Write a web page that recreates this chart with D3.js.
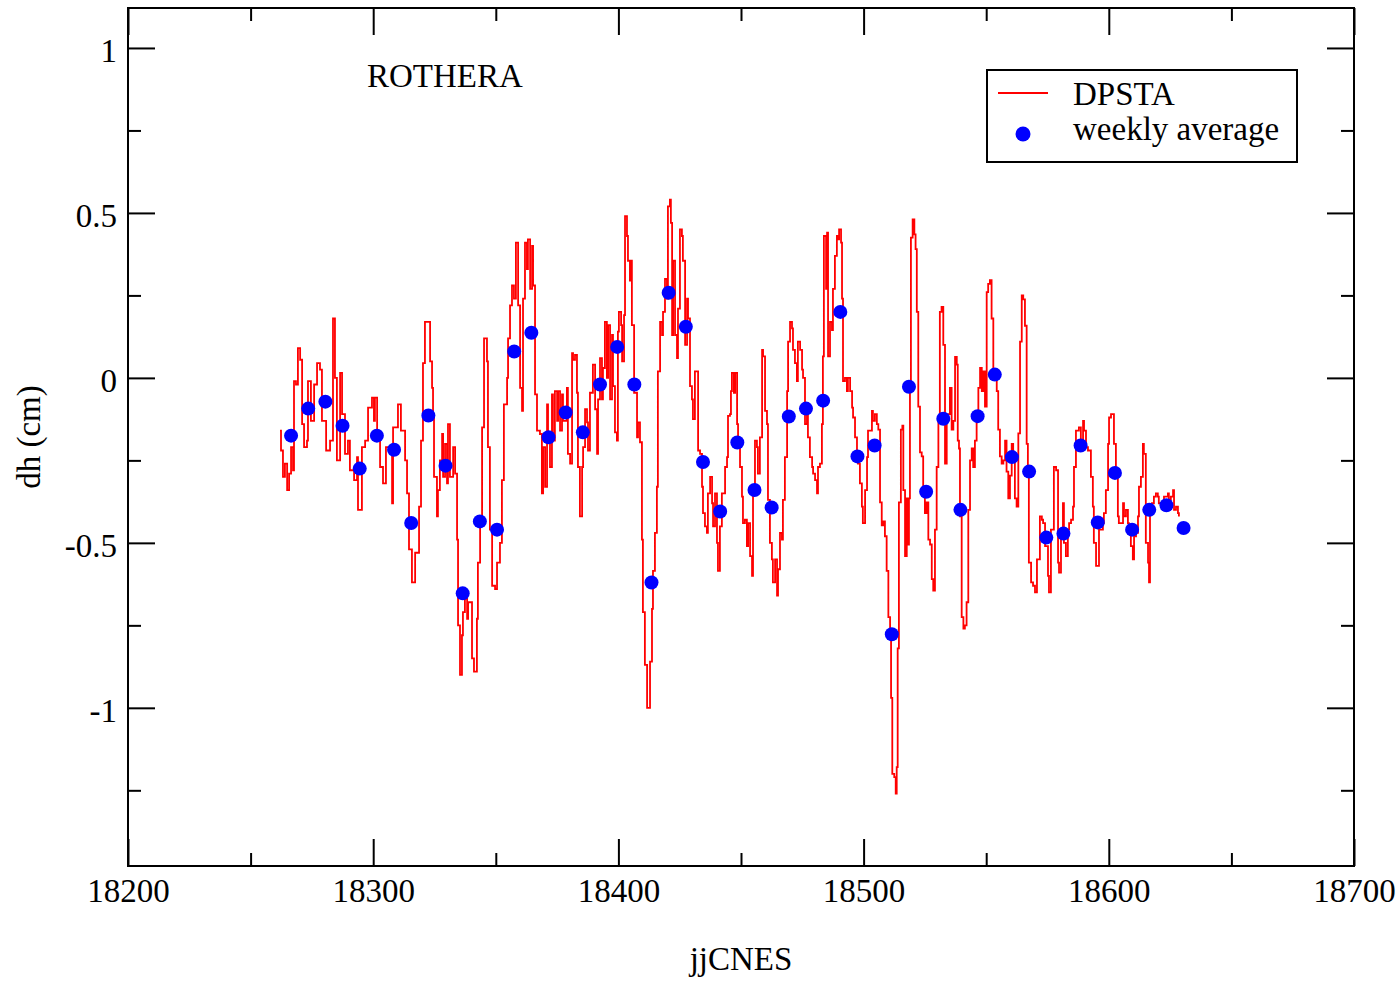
<!DOCTYPE html>
<meta charset="utf-8">
<script src="https://d3js.org/d3.v7.min.js"></script>
<style>
  body { margin: 0; background: #fff; }
  text { font-family: "Liberation Serif", "Times New Roman", serif; fill: #000; }
  .axis path { display: none; }
  .axis line { stroke: #000; stroke-width: 2; }
  .axis text { font-size: 33px; }
</style>
<div id="chart"></div>
<script>

// day = t0 + offset (jjCNES)
var t0 = 18200;

// DPSTA series, day offsets and dh (cm)
var dpsta_t = [
62.0,62.4,63.2,64.0,64.9,65.7,66.5,67.3,67.7,68.5,69.3,70.2,71.0,71.8,73.0,73.4,74.6,75.9,77.1,78.3,
79.1,80.8,82.4,83.6,84.4,85.2,86.5,87.3,88.5,89.7,90.5,92.2,93.4,93.8,95.4,96.7,97.9,99.5,100.3,100.7,
101.6,102.8,104.0,105.2,107.7,108.1,110.1,111.3,113.0,113.8,114.6,115.8,117.1,118.7,119.5,120.3,121.1,
122.4,123.2,124.0,124.4,124.8,126.0,126.4,127.2,128.1,128.5,129.3,130.1,130.5,131.3,132.6,133.4,134.2,
134.6,135.4,136.2,136.6,137.4,138.3,138.7,140.3,141.1,142.3,142.7,143.6,144.4,145.2,146.4,146.8,147.6,
148.5,149.7,150.5,150.9,151.7,152.5,153.3,154.6,155.0,155.8,156.6,157.4,158.2,159.1,159.9,160.7,161.1,
161.9,162.7,163.1,164.0,164.8,165.2,166.0,166.8,168.0,168.8,169.3,170.1,170.9,171.3,172.1,172.9,173.3,
174.1,175.0,175.4,176.2,177.0,177.4,179.0,179.4,180.3,181.1,181.5,
182.3,183.1,183.5,184.3,185.2,185.6,186.4,187.2,187.6,188.4,189.6,190.5,191.3,191.7,192.5,193.3,193.7,
194.5,195.3,195.8,196.6,197.4,197.8,198.6,199.4,199.8,200.2,201.1,201.5,202.3,202.7,203.5,203.9,204.7,
205.1,205.5,206.4,207.6,208.0,208.8,209.6,210.0,210.8,211.7,212.1,212.9,213.7,214.1,214.9,215.7,216.1,
217.0,217.8,218.2,219.0,219.8,220.2,221.0,221.4,221.9,222.3,223.1,223.9,224.3,225.1,225.9,226.3,227.2,
228.0,228.4,229.2,230.0,230.4,231.2,232.1,232.5,233.3,234.1,234.5,235.3,236.1,236.5,237.4,238.2,238.6,
239.4,240.2,240.6,241.4,242.2,243.5,
244.3,244.7,245.5,245.9,246.3,247.1,247.6,248.4,248.8,249.6,250.4,250.8,251.6,252.4,252.9,253.7,254.5,
254.9,255.7,256.5,256.9,257.7,258.6,259.0,259.8,260.6,261.0,261.8,262.6,263.0,263.9,264.7,265.1,265.9,
266.7,267.1,267.9,268.8,269.2,270.0,270.8,271.2,272.0,272.8,273.2,274.1,274.9,275.3,276.1,276.9,277.3,
278.1,279.0,279.4,280.2,281.0,281.4,282.2,283.0,283.4,283.8,284.7,285.1,285.5,286.3,287.1,287.5,288.3,
289.1,289.6,290.0,290.8,291.2,291.6,292.4,293.2,293.6,294.5,295.3,295.7,296.5,297.3,297.7,298.5,299.3,
299.7,300.6,301.4,301.8,302.6,303.4,303.8,304.6,305.4,
306.0,306.7,307.4,308.0,308.7,309.4,310.1,310.8,311.2,311.7,312.5,313.1,313.5,313.9,314.4,315.2,315.8,
316.2,316.9,317.6,318.0,318.5,318.9,319.3,320.0,320.7,321.2,321.7,322.3,323.0,323.7,324.3,325.0,325.7,
326.4,327.1,327.8,328.4,329.1,329.8,330.5,331.1,331.8,332.5,333.2,333.9,334.5,335.2,335.9,336.6,337.3,
338.0,338.4,338.9,339.3,340.0,340.7,341.3,342.0,342.7,343.4,344.1,344.7,345.4,346.1,346.8,347.5,348.2,
348.8,349.5,350.2,350.8,351.5,352.2,352.9,353.6,354.3,354.9,355.6,356.3,357.0,357.7,358.3,359.0,359.7,
360.4,361.0,361.7,362.4,363.1,363.8,364.5,365.1,365.8,366.5,
367.0,367.4,368.3,369.1,369.9,370.7,371.1,371.9,372.7,373.2,374.0,374.8,375.2,375.6,376.4,377.2,377.6,
378.5,379.3,379.7,380.5,381.3,381.7,382.5,383.3,383.8,384.6,385.4,385.8,386.6,387.4,387.8,388.6,389.5,
389.9,390.7,391.5,391.9,392.7,393.5,393.9,394.8,395.6,396.0,396.8,397.6,398.0,398.8,399.7,400.1,400.9,
401.7,402.1,402.9,403.7,404.1,405.0,405.8,406.2,407.0,407.8,408.2,409.0,409.8,410.3,411.1,411.9,412.3,
413.1,413.9,414.3,415.1,416.0,416.4,416.8,417.6,418.4,419.2,420.0,420.4,421.3,422.1,422.5,423.3,424.1,
424.5,425.3,426.2,426.6,427.4,428.2,428.6
];

var dpsta_v = [
-0.16,-0.22,-0.30,-0.26,-0.34,-0.29,-0.21,-0.28,-0.01,-0.02,0.09,0.055,-0.14,-0.21,-0.19,-0.01,-0.13,-0.02,0.045,0.025,
-0.13,-0.22,-0.19,0.18,0.0,-0.25,0.015,-0.11,-0.23,-0.19,-0.28,-0.31,-0.24,-0.40,-0.21,-0.19,-0.09,-0.06,-0.13,-0.06,
-0.18,-0.27,-0.32,-0.21,-0.38,-0.15,-0.08,-0.16,-0.25,-0.35,-0.52,-0.62,-0.53,-0.39,-0.19,0.045,0.17,
0.17,0.05,-0.03,-0.12,-0.30,-0.42,-0.34,-0.25,-0.17,-0.30,-0.20,-0.32,-0.14,-0.30,-0.21,-0.29,-0.49,
-0.75,-0.90,-0.78,-0.71,-0.67,-0.73,-0.68,-0.85,-0.89,-0.73,-0.56,-0.43,-0.15,0.12,0.05,-0.21,-0.46,
-0.63,-0.64,-0.56,-0.56,-0.50,-0.31,-0.08,0.0,0.12,0.22,0.28,0.24,0.41,0.22,-0.03,-0.10,0.24,
0.41,0.33,0.42,0.27,0.40,0.28,-0.05,-0.16,-0.17,-0.35,-0.21,-0.33,-0.08,-0.17,-0.27,-0.05,-0.19,
-0.04,-0.13,-0.04,-0.16,-0.05,-0.13,-0.03,-0.23,-0.26,0.075,0.055,
0.07,-0.045,-0.27,-0.42,-0.27,-0.21,-0.095,-0.135,-0.22,-0.045,0.04,-0.095,-0.23,-0.065,0.06,-0.065,0.03,
0.17,0.0,0.16,-0.065,0.13,-0.025,-0.165,-0.19,0.14,0.20,0.16,0.05,0.19,0.49,0.43,0.355,0.295,
0.355,0.16,-0.045,-0.18,-0.135,-0.195,-0.49,-0.71,-0.87,-1.0,-1.0,-0.86,-0.70,-0.585,-0.47,-0.33,0.02,
0.17,0.13,0.20,0.30,0.24,0.52,0.54,0.47,0.13,0.355,0.13,0.06,0.21,0.45,0.43,0.355,0.10,
0.24,0.18,-0.025,-0.065,-0.125,0.02,0.02,-0.22,-0.23,-0.33,-0.41,-0.45,-0.47,-0.35,-0.30,-0.38,-0.45,
-0.35,-0.50,-0.585,-0.45,-0.35,-0.27,
-0.24,-0.115,-0.11,-0.04,0.015,-0.045,0.015,-0.14,-0.21,-0.27,-0.36,-0.44,-0.43,-0.51,-0.44,-0.54,-0.60,
-0.34,-0.19,-0.21,-0.29,-0.18,0.085,0.065,-0.10,-0.14,-0.37,-0.50,-0.55,-0.62,-0.55,-0.66,-0.58,-0.47,
-0.49,-0.37,-0.24,-0.04,0.11,0.17,0.15,0.085,0.045,-0.01,0.11,0.085,0.025,0.0,-0.14,-0.10,-0.18,
-0.24,-0.27,-0.29,-0.31,-0.35,-0.27,-0.26,-0.14,0.065,0.43,0.27,0.44,0.065,0.17,0.145,0.27,0.37,
0.43,0.42,0.45,0.41,0.24,-0.01,0.0,-0.04,0.0,-0.04,-0.09,-0.12,-0.18,-0.24,-0.26,-0.32,-0.39,
-0.44,-0.34,-0.24,-0.16,-0.16,-0.10,-0.13,-0.11,-0.14,
-0.157,-0.377,-0.447,-0.435,-0.48,-0.585,-0.725,-0.77,-0.97,-1.20,-1.21,-1.26,-1.18,-0.82,-0.377,-0.157,-0.145,
-0.34,-0.54,-0.365,-0.505,-0.365,-0.018,0.425,0.48,0.435,0.39,0.20,-0.087,-0.226,-0.238,-0.34,-0.41,-0.377,
-0.49,-0.505,-0.61,-0.645,-0.46,-0.27,-0.12,0.20,0.215,0.10,-0.26,-0.13,-0.11,-0.03,-0.157,-0.13,0.064,
0.04,-0.19,-0.214,-0.42,-0.725,-0.76,-0.75,-0.68,-0.40,-0.25,-0.214,-0.27,-0.19,-0.11,-0.03,0.03,-0.04,
0.02,-0.087,0.26,0.285,0.296,0.18,0.007,-0.005,-0.04,-0.157,-0.238,-0.26,-0.25,-0.19,-0.284,-0.365,-0.296,
-0.2,-0.238,-0.365,-0.39,-0.168,0.11,0.25,0.238,0.158,-0.2,
-0.29,-0.56,-0.62,-0.63,-0.65,-0.55,-0.55,-0.42,-0.43,-0.44,-0.51,-0.51,-0.60,-0.65,-0.46,-0.46,-0.27,
-0.28,-0.56,-0.59,-0.46,-0.38,-0.50,-0.54,-0.46,-0.44,-0.43,-0.39,-0.27,-0.16,-0.16,-0.15,-0.19,-0.13,
-0.16,-0.21,-0.22,-0.22,-0.30,-0.39,-0.50,-0.57,-0.57,-0.46,-0.46,-0.44,-0.41,-0.34,-0.20,-0.12,-0.11,
-0.11,-0.20,-0.29,-0.42,-0.44,-0.44,-0.38,-0.42,-0.40,-0.44,-0.46,-0.51,-0.55,-0.48,-0.47,-0.42,-0.33,
-0.30,-0.20,-0.23,-0.50,-0.56,-0.62,-0.40,-0.38,-0.36,-0.35,-0.36,-0.38,-0.39,-0.38,-0.36,-0.36,-0.35,
-0.37,-0.36,-0.34,-0.40,-0.39,-0.41,-0.42
];

// weekly average
var week_day = [
18266.5,18273.5,18280.5,18287.5,18294.5,18301.5,18308.5,18315.5,18322.5,18329.5,18336.5,18343.5,18350.5,
18357.5,18364.5,18371.5,18378.5,18385.5,18392.5,18399.5,18406.5,18413.5,18420.5,18427.5,18434.5,18441.5,
18448.5,18455.5,18462.5,18469.5,18476.5,18483.5,18490.5,18497.5,18504.5,18511.5,18518.5,18525.5,18532.5,
18539.5,18546.5,18553.5,18560.5,18567.5,18574.5,18581.5,18588.5,18595.5,18602.5,18609.5,18616.5,18623.5,
18630.5
];
var week_v = [
-0.175,-0.093,-0.072,-0.145,-0.275,-0.175,-0.218,-0.44,-0.114,-0.266,-0.653,-0.435,-0.46,
0.08,0.137,-0.18,-0.105,-0.165,-0.02,0.094,-0.02,-0.62,0.258,0.155,-0.255,-0.405,
-0.196,-0.34,-0.393,-0.117,-0.093,-0.069,0.20,-0.238,-0.205,-0.777,-0.027,-0.345,-0.124,
-0.40,-0.116,0.01,-0.24,-0.284,-0.484,-0.472,-0.205,-0.438,-0.288,-0.46,-0.40,-0.386,
-0.455
];

var xMajor = [18200, 18300, 18400, 18500, 18600, 18700];
var xMinor = [18250, 18350, 18450, 18550, 18650];
var yMajor = [-1, -0.5, 0, 0.5, 1];
var yMinor = [-1.25, -0.75, -0.25, 0.25, 0.75];

var margin = {top: 8, right: 46, bottom: 116, left: 128},
  width = 1400 - margin.left - margin.right,
  height = 982 - margin.top - margin.bottom;

var svg = d3.select("#chart")
  .append("svg")
    .attr("width", 1400)
    .attr("height", 982)
  .append("g")
    .attr("transform", "translate(" + margin.left + "," + margin.top + ")");

var x = d3.scaleLinear().domain([18200, 18700]).range([0, width]);
var y = d3.scaleLinear().domain([-1.4794, 1.1211]).range([height, 0]);

// plain hyphen for negatives, like the original
var fmt = function(d) { return String(d); };

// bottom
svg.append("g").attr("class", "axis")
  .attr("transform", "translate(0," + height + ")")
  .call(d3.axisBottom(x).tickValues(xMajor).tickSizeInner(-27).tickSizeOuter(0).tickPadding(13).tickFormat(fmt));
svg.append("g").attr("class", "axis")
  .attr("transform", "translate(0," + height + ")")
  .call(d3.axisBottom(x).tickValues(xMinor).tickSizeInner(-13).tickSizeOuter(0).tickFormat(""));
// top
svg.append("g").attr("class", "axis")
  .call(d3.axisTop(x).tickValues(xMajor).tickSizeInner(-27).tickSizeOuter(0).tickFormat(""));
svg.append("g").attr("class", "axis")
  .call(d3.axisTop(x).tickValues(xMinor).tickSizeInner(-13).tickSizeOuter(0).tickFormat(""));
// left
var yl = svg.append("g").attr("class", "axis")
  .call(d3.axisLeft(y).tickValues(yMajor).tickSizeInner(-27).tickSizeOuter(0).tickPadding(11).tickFormat(fmt));
yl.selectAll("text").attr("dy", "0.40em");
svg.append("g").attr("class", "axis")
  .call(d3.axisLeft(y).tickValues(yMinor).tickSizeInner(-13).tickSizeOuter(0).tickFormat(""));
// right
svg.append("g").attr("class", "axis")
  .attr("transform", "translate(" + width + ",0)")
  .call(d3.axisRight(y).tickValues(yMajor).tickSizeInner(-27).tickSizeOuter(0).tickFormat(""));
svg.append("g").attr("class", "axis")
  .attr("transform", "translate(" + width + ",0)")
  .call(d3.axisRight(y).tickValues(yMinor).tickSizeInner(-13).tickSizeOuter(0).tickFormat(""));

// frame
svg.append("rect")
  .attr("width", width).attr("height", height)
  .attr("fill", "none").attr("stroke", "#000").attr("stroke-width", 2);

// DPSTA
var idx = d3.range(dpsta_t.length);
var line = d3.line()
  .x(function(i) { return x(t0 + dpsta_t[i]); })
  .y(function(i) { return y(dpsta_v[i]); })
  .curve(d3.curveStepAfter);

svg.append("path")
  .datum(idx)
  .attr("fill", "none")
  .attr("stroke", "#ff0000")
  .attr("stroke-width", 1.8)
  .attr("d", line);

// weekly average
svg.selectAll(".wk")
  .data(week_day)
  .enter().append("circle")
    .attr("class", "wk")
    .attr("cx", function(d) { return x(d); })
    .attr("cy", function(d, i) { return y(week_v[i]); })
    .attr("r", 7)
    .attr("fill", "#0000ff");

// station name
svg.append("text")
  .attr("x", 239).attr("y", 79)
  .style("font-size", "33px")
  .text("ROTHERA");

// legend
var lg = svg.append("g").attr("transform", "translate(859,62)");
lg.append("rect")
  .attr("width", 310).attr("height", 92)
  .attr("fill", "#fff").attr("stroke", "#000").attr("stroke-width", 2);
lg.append("line")
  .attr("x1", 11).attr("x2", 61).attr("y1", 23).attr("y2", 23)
  .attr("stroke", "#ff0000").attr("stroke-width", 1.8);
lg.append("text").attr("x", 86).attr("y", 35).style("font-size", "33px").text("DPSTA");
lg.append("circle").attr("cx", 36).attr("cy", 64).attr("r", 7.5).attr("fill", "#0000ff");
lg.append("text").attr("x", 86).attr("y", 70).style("font-size", "33px").text("weekly average");

// axis titles
svg.append("text")
  .attr("x", width / 2).attr("y", 962)
  .attr("text-anchor", "middle")
  .style("font-size", "33px")
  .text("jjCNES");

svg.append("text")
  .attr("transform", "translate(-88," + (height / 2) + ") rotate(-90)")
  .attr("text-anchor", "middle")
  .style("font-size", "33px")
  .text("dh (cm)");

</script>
